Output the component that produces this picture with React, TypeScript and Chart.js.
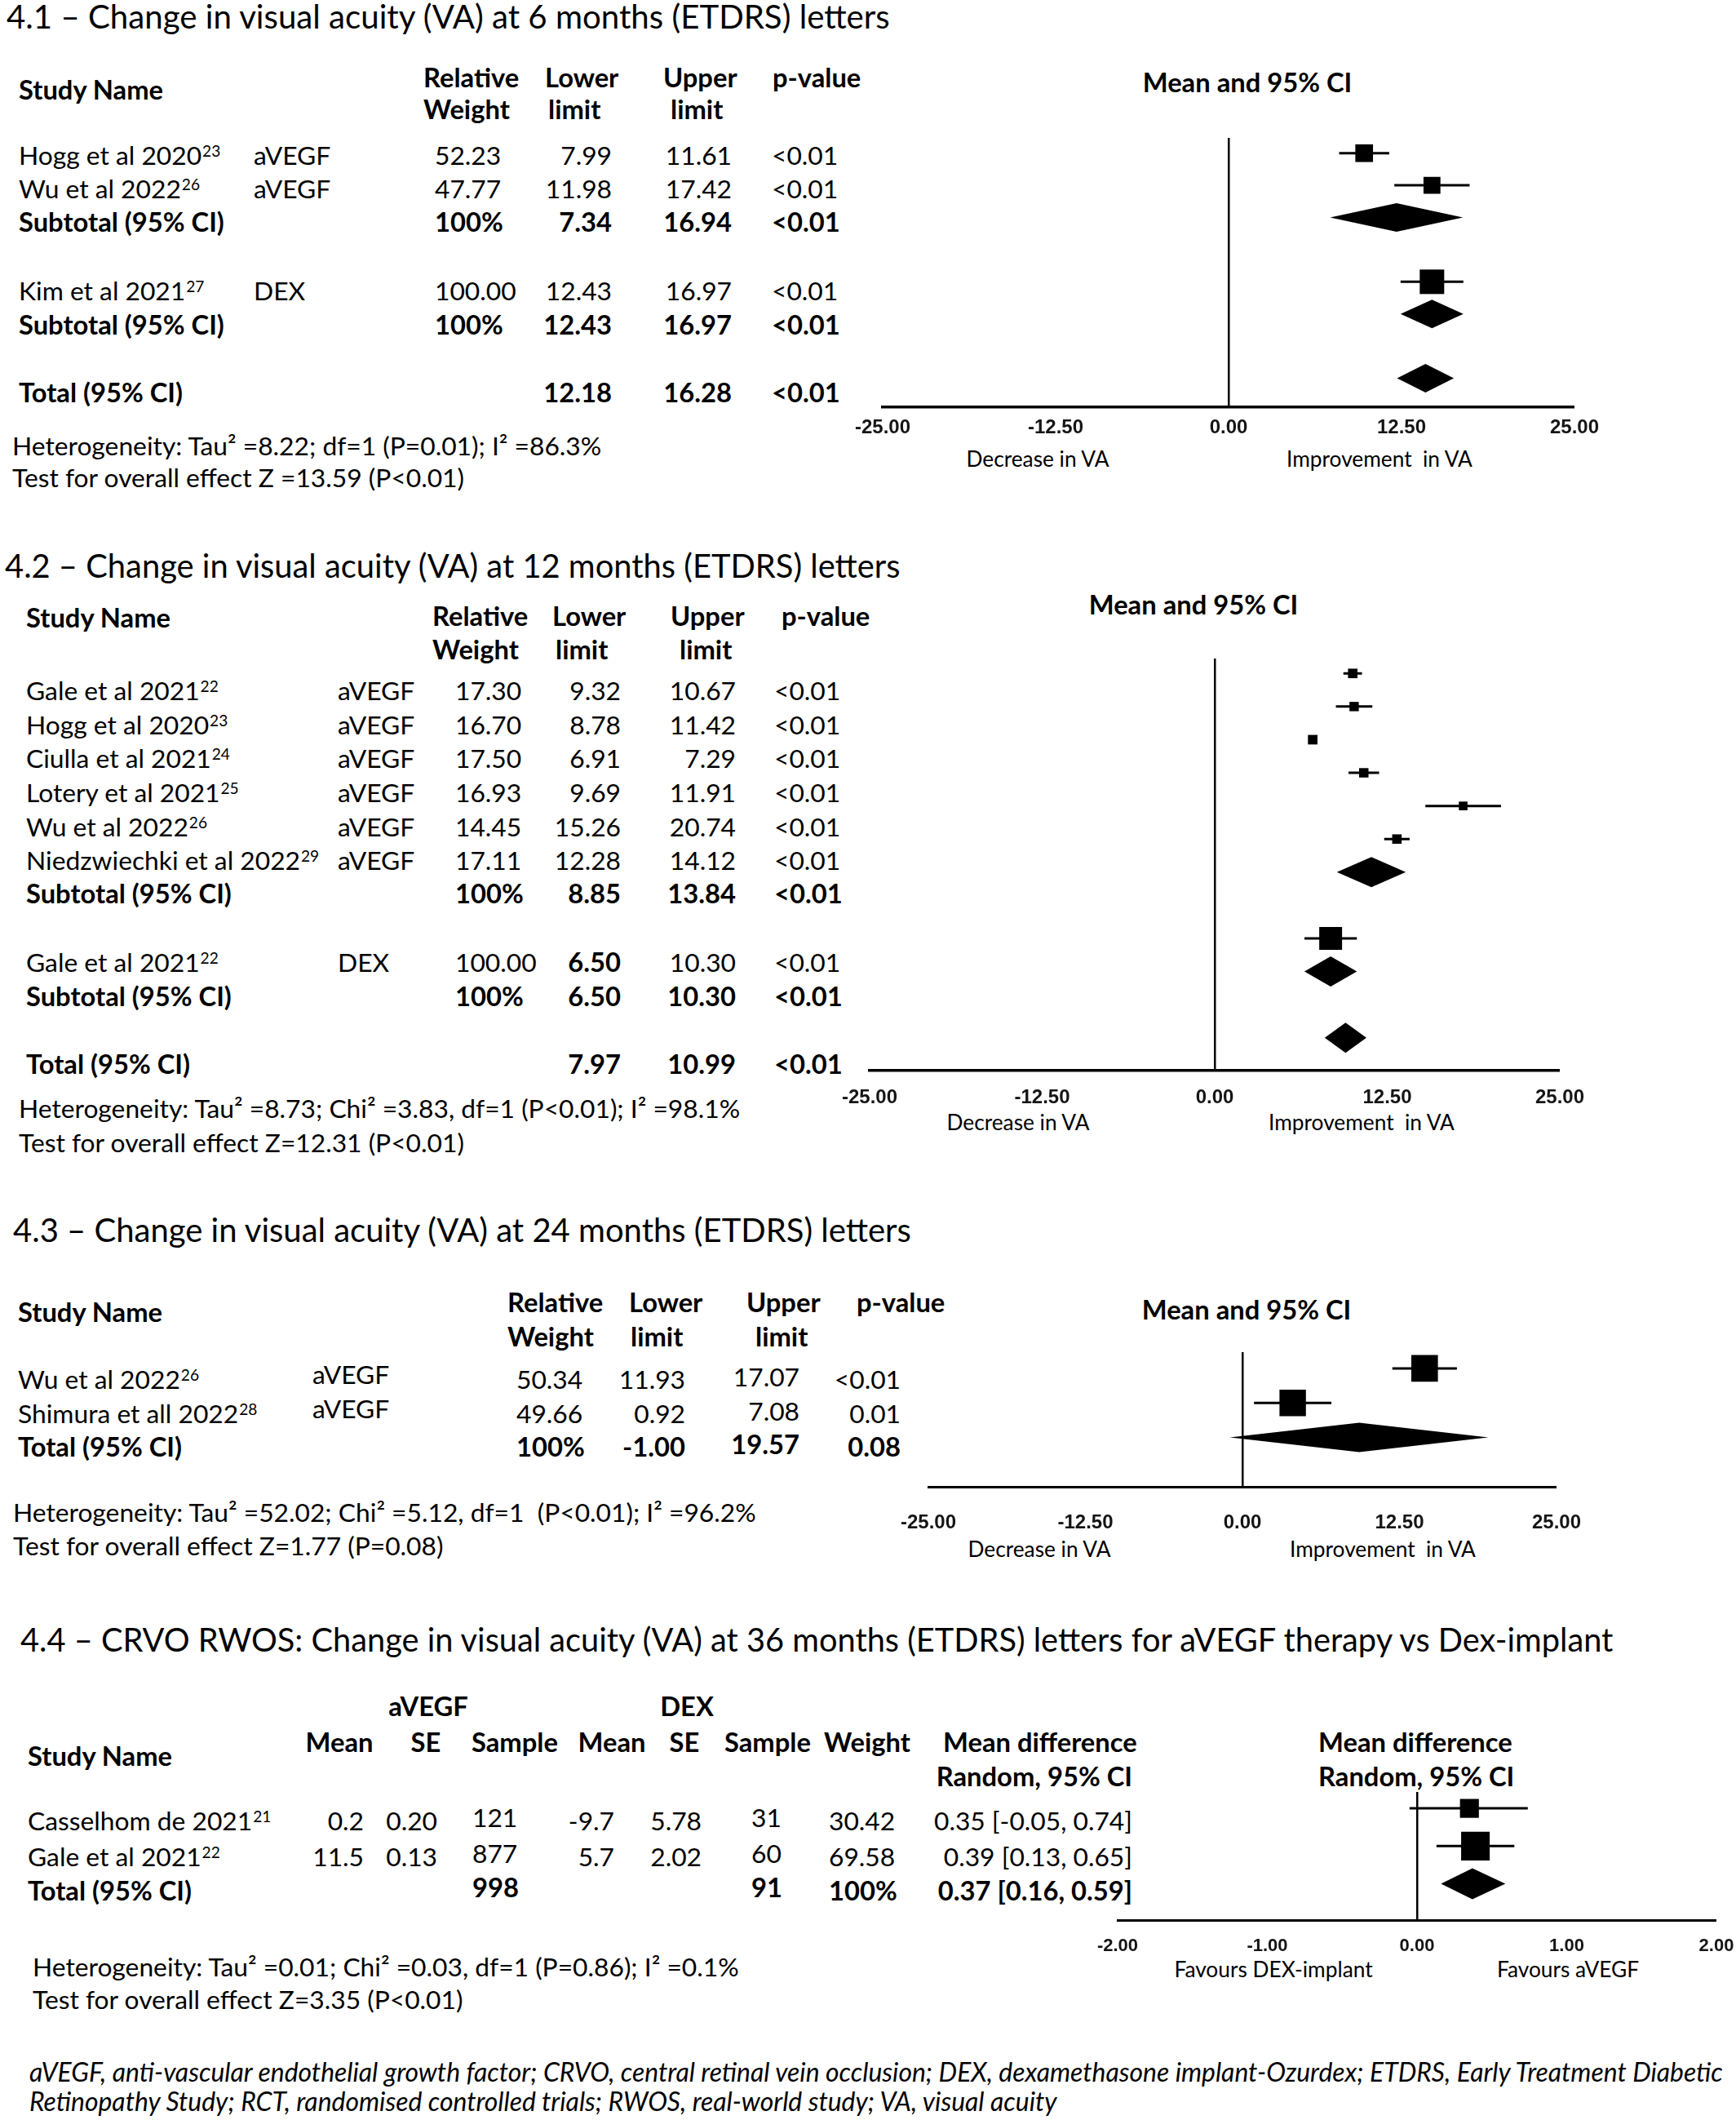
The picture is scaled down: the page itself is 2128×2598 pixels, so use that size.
import React, { useEffect, useMemo, useRef } from "react";
import { Chart, registerables } from "chart.js";
Chart.register(...registerables);

const FONT = "Lato, 'Open Sans', 'DejaVu Sans', sans-serif";
const TICK_FONT = "'Liberation Sans', Arial, sans-serif";

// ---------------- 4.1 : 6 months ----------------
const p1Study = ["Hogg et al 2020", "Wu et al 2022", "Subtotal (95% CI)", "Kim et al 2021", "Subtotal (95% CI)", "Total (95% CI)"];
const p1Ref = ["23", "26", "", "27", "", ""];
const p1Drug = ["aVEGF", "aVEGF", "", "DEX", "", ""];
const p1WeightLabel = ["52.23", "47.77", "100%", "100.00", "100%", ""];
const p1Weight = [52.23, 47.77, 100, 100, 100, 100];
const p1Lower = [7.99, 11.98, 7.34, 12.43, 12.43, 12.18];
const p1Upper = [11.61, 17.42, 16.94, 16.97, 16.97, 16.28];
const p1P = ["<0.01", "<0.01", "<0.01", "<0.01", "<0.01", "<0.01"];
const p1Mean = [9.8, 14.7, 12.14, 14.7, 14.7, 14.23];
const p1Pooled = [false, false, true, false, true, true];
const p1Row = [0, 1, 2, 4, 5, 7];
const p1Ticks = [-25, -12.5, 0, 12.5, 25];

// ---------------- 4.2 : 12 months ----------------
const p2Study = ["Gale et al 2021", "Hogg et al 2020", "Ciulla et al 2021", "Lotery et al 2021", "Wu et al 2022", "Niedzwiechki et al 2022", "Subtotal (95% CI)", "Gale et al 2021", "Subtotal (95% CI)", "Total (95% CI)"];
const p2Ref = ["22", "23", "24", "25", "26", "29", "", "22", "", ""];
const p2Drug = ["aVEGF", "aVEGF", "aVEGF", "aVEGF", "aVEGF", "aVEGF", "", "DEX", "", ""];
const p2WeightLabel = ["17.30", "16.70", "17.50", "16.93", "14.45", "17.11", "100%", "100.00", "100%", ""];
const p2Weight = [17.3, 16.7, 17.5, 16.93, 14.45, 17.11, 100, 100, 100, 100];
const p2Lower = [9.32, 8.78, 6.91, 9.69, 15.26, 12.28, 8.85, 6.5, 6.5, 7.97];
const p2Upper = [10.67, 11.42, 7.29, 11.91, 20.74, 14.12, 13.84, 10.3, 10.3, 10.99];
const p2LowerBold = [false, false, false, false, false, false, true, true, true, true];
const p2P = ["<0.01", "<0.01", "<0.01", "<0.01", "<0.01", "<0.01", "<0.01", "<0.01", "<0.01", "<0.01"];
const p2Mean = [10.0, 10.1, 7.1, 10.8, 18.0, 13.2, 11.35, 8.4, 8.4, 9.48];
const p2Pooled = [false, false, false, false, false, false, true, false, true, true];
const p2Row = [0, 1, 2, 3, 4, 5, 6, 8, 9, 11];
const p2Ticks = [-25, -12.5, 0, 12.5, 25];

// ---------------- 4.3 : 24 months ----------------
const p3Study = ["Wu et al 2022", "Shimura et all 2022", "Total (95% CI)"];
const p3Ref = ["26", "28", ""];
const p3Drug = ["aVEGF", "aVEGF", ""];
const p3WeightLabel = ["50.34", "49.66", "100%"];
const p3Weight = [50.34, 49.66, 100];
const p3Lower = [11.93, 0.92, -1.0];
const p3Upper = [17.07, 7.08, 19.57];
const p3P = ["<0.01", "0.01", "0.08"];
const p3Mean = [14.5, 4.0, 9.29];
const p3Pooled = [false, false, true];
const p3Row = [0, 1, 2];
const p3Ticks = [-25, -12.5, 0, 12.5, 25];

// ---------------- 4.4 : 36 months ----------------
const p4Study = ["Casselhom de 2021", "Gale et al 2021", "Total (95% CI)"];
const p4Ref = ["21", "22", ""];
const p4AMean = ["0.2", "11.5", ""];
const p4ASE = ["0.20", "0.13", ""];
const p4AN = ["121", "877", "998"];
const p4DMean = ["-9.7", "5.7", ""];
const p4DSE = ["5.78", "2.02", ""];
const p4DN = ["31", "60", "91"];
const p4WeightLabel = ["30.42", "69.58", "100%"];
const p4Weight = [30.42, 69.58, 100];
const p4MD = [0.35, 0.39, 0.37];
const p4Low = [-0.05, 0.13, 0.16];
const p4High = [0.74, 0.65, 0.59];
const p4Pooled = [false, false, true];
const p4Row = [0, 1, 2];
const p4Ticks = [-2, -1, 0, 1, 2];

const T1 = "4.1 – Change in visual acuity (VA) at 6 months (ETDRS) letters";
const T2 = "4.2 – Change in visual acuity (VA) at 12 months (ETDRS) letters";
const T3 = "4.3 – Change in visual acuity (VA) at 24 months (ETDRS) letters";
const T4 = "4.4 – CRVO RWOS: Change in visual acuity (VA) at 36 months (ETDRS) letters for aVEGF therapy vs Dex-implant";
const F1 = "aVEGF, anti-vascular endothelial growth factor; CRVO, central retinal vein occlusion; DEX, dexamethasone implant-Ozurdex; ETDRS, Early Treatment Diabetic";
const F2 = "Retinopathy Study; RCT, randomised controlled trials; RWOS, real-world study; VA, visual acuity";

function fitSize(text: string, target: number, weight = "normal", style = "normal", family = FONT) {
  const c = document.createElement("canvas").getContext("2d")!;
  c.font = `${style} ${weight} 100px ${family}`;
  const w = c.measureText(text).width || 1;
  return (100 * target) / w;
}

function Txt({ x, y, a = "l", b = false, i = false, s, children }: any) {
  const tx = a === "l" ? "0" : a === "c" ? "-50%" : "-100%";
  return (
    <div
      style={{
        position: "absolute",
        left: x,
        top: y,
        transform: `translate(${tx},-50%)`,
        whiteSpace: "pre",
        fontFamily: FONT,
        fontSize: s,
        fontWeight: b ? 700 : 400,
        fontStyle: i ? "italic" : "normal",
        lineHeight: 1.2,
        color: "#000",
      }}
    >
      {children}
    </div>
  );
}

const Sup = ({ t }: { t: string }) =>
  t ? <span style={{ fontSize: "0.6em", position: "relative", top: "-0.55em", marginLeft: 1 }}>{t}</span> : null;

type ForestProps = {
  x0: number; x1: number; zeroTop: number; axisY: number;
  xMin: number; xMax: number; ticks: number[];
  yMin: number; yMax: number;
  rows: number[]; means: number[]; lows: number[]; highs: number[]; weights: number[]; pooled: boolean[];
  sqK: number; diaHalf: number; axisW: number; tickCenter: number; tickSize: number;
};

function Forest(p: ForestProps) {
  const ref = useRef<HTMLCanvasElement>(null);
  const PADL = 70, PADR = 70, PADT = 30, XH = 110;
  const left = p.x0 - PADL;
  const top = p.zeroTop - PADT;
  const width = p.x1 - p.x0 + PADL + PADR;
  const height = PADT + (p.axisY - p.zeroTop) + XH;
  useEffect(() => {
    const pts: any[] = [];
    const radii: number[] = [];
    p.means.forEach((m, i) => {
      if (p.pooled[i]) return;
      pts.push({ x: m, y: p.rows[i] });
      radii.push((p.sqK * Math.sqrt(p.weights[i])) / Math.SQRT2);
    });
    const marks = {
      id: "forestMarks",
      beforeDatasetsDraw(chart: any) {
        const { ctx, scales } = chart;
        const xs = scales.x, ys = scales.y;
        ctx.save();
        ctx.strokeStyle = "#000";
        ctx.lineWidth = 3;
        p.lows.forEach((lo, i) => {
          if (p.pooled[i]) return;
          const yy = ys.getPixelForValue(p.rows[i]);
          ctx.beginPath();
          ctx.moveTo(xs.getPixelForValue(lo), yy);
          ctx.lineTo(xs.getPixelForValue(p.highs[i]), yy);
          ctx.stroke();
        });
        ctx.restore();
      },
      afterDatasetsDraw(chart: any) {
        const { ctx, scales } = chart;
        const xs = scales.x, ys = scales.y;
        ctx.save();
        ctx.fillStyle = "#000";
        p.lows.forEach((lo, i) => {
          if (!p.pooled[i]) return;
          const yy = ys.getPixelForValue(p.rows[i]);
          const xl = xs.getPixelForValue(lo);
          const xm = xs.getPixelForValue(p.means[i]);
          const xr = xs.getPixelForValue(p.highs[i]);
          ctx.beginPath();
          ctx.moveTo(xl, yy);
          ctx.lineTo(xm, yy - p.diaHalf);
          ctx.lineTo(xr, yy);
          ctx.lineTo(xm, yy + p.diaHalf);
          ctx.closePath();
          ctx.fill();
        });
        ctx.restore();
      },
    };
    const chart = new Chart(ref.current!, {
      type: "scatter",
      data: {
        datasets: [
          {
            data: pts,
            pointStyle: "rect",
            pointRadius: radii,
            pointHoverRadius: radii,
            pointBackgroundColor: "#000",
            pointBorderColor: "#000",
            pointBorderWidth: 0,
          } as any,
        ],
      },
      options: {
        animation: false,
        responsive: false,
        devicePixelRatio: 1,
        events: [],
        layout: { padding: { left: PADL, right: PADR, top: PADT, bottom: 0 } },
        plugins: { legend: { display: false }, tooltip: { enabled: false }, title: { display: false } },
        scales: {
          x: {
            type: "linear",
            position: "bottom",
            min: p.xMin,
            max: p.xMax,
            afterBuildTicks: (s: any) => {
              s.ticks = p.ticks.map((v) => ({ value: v }));
            },
            afterFit: (s: any) => {
              s.height = XH;
            },
            ticks: {
              autoSkip: false,
              maxRotation: 0,
              padding: p.tickCenter - p.axisY - 0.6 * p.tickSize,
              color: "#151515",
              font: { family: TICK_FONT, size: p.tickSize, weight: "bold" },
              callback: (v: any) => Number(v).toFixed(2),
            },
            grid: {
              drawTicks: false,
              color: (c: any) => (c.tick && c.tick.value === 0 ? "#000" : "rgba(0,0,0,0)"),
              lineWidth: (c: any) => (c.tick && c.tick.value === 0 ? 2.5 : 0),
            },
            border: { display: true, color: "#000", width: p.axisW },
          },
          y: { type: "linear", display: false, min: p.yMin, max: p.yMax, reverse: true },
        },
      } as any,
      plugins: [marks],
    });
    return () => chart.destroy();
  }, []);
  return (
    <canvas
      ref={ref}
      width={width}
      height={height}
      style={{ position: "absolute", left, top, width, height }}
    />
  );
}

export default function App() {
  const sz = useMemo(
    () => ({
      body: fitSize("Test for overall effect Z =13.59 (P<0.01)", 555),
      bold: fitSize("Study Name", 178, "bold"),
      t1: fitSize(T1, 1085),
      t2: fitSize(T2, 1100),
      t3: fitSize(T3, 1103),
      t4: fitSize(T4, 1958),
      cap: fitSize("Decrease in VA", 176),
      foot: fitSize(F1, 2080, "normal", "italic"),
    }),
    []
  );
  const B = sz.body, BB = sz.bold;

  const header = (xs: number[], y1: number, y2: number) => (
    <>
      <Txt x={xs[0]} y={y1} b s={BB}>Relative</Txt>
      <Txt x={xs[0]} y={y2} b s={BB}>Weight</Txt>
      <Txt x={xs[1]} y={y1} b s={BB}>Lower</Txt>
      <Txt x={xs[2]} y={y2} b s={BB}>limit</Txt>
      <Txt x={xs[3]} y={y1} b s={BB}>Upper</Txt>
      <Txt x={xs[4]} y={y2} b s={BB}>limit</Txt>
      <Txt x={xs[5]} y={y1} b s={BB}>p-value</Txt>
    </>
  );

  const rows1 = [190, 231, 272, 356, 398, 481];
  const rows2 = [846, 888, 929, 971, 1013, 1054, 1095, 1179, 1221, 1304];
  const rows3 = [1690, 1732, 1773];
  const rows4 = [2231, 2275, 2317];

  return (
    <div style={{ position: "absolute", left: 0, top: 0, width: 2128, height: 2598, background: "#fff", overflow: "hidden" }}>
      {/* ---------- 4.1 ---------- */}
      <Txt x={8} y={20} s={sz.t1}>{T1}</Txt>
      <Txt x={23} y={110} b s={BB}>Study Name</Txt>
      {header([519, 668, 672, 813, 822, 947], 95, 134)}
      {p1Study.map((n, i) => {
        const b = p1Pooled[i];
        return (
          <React.Fragment key={"r1" + i}>
            <Txt x={23} y={rows1[i]} b={b} s={b ? BB : B}>{n}<Sup t={p1Ref[i]} /></Txt>
            <Txt x={311} y={rows1[i]} s={B}>{p1Drug[i]}</Txt>
            <Txt x={533} y={rows1[i]} b={b} s={b ? BB : B}>{p1WeightLabel[i]}</Txt>
            <Txt x={750} y={rows1[i]} a="r" b={b} s={b ? BB : B}>{p1Lower[i].toFixed(2)}</Txt>
            <Txt x={897} y={rows1[i]} a="r" b={b} s={b ? BB : B}>{p1Upper[i].toFixed(2)}</Txt>
            <Txt x={946} y={rows1[i]} b={b} s={b ? BB : B}>{p1P[i]}</Txt>
          </React.Fragment>
        );
      })}
      <Txt x={15} y={546} s={B}>Heterogeneity: Tau² =8.22; df=1 (P=0.01); I² =86.3%</Txt>
      <Txt x={15} y={585} s={B}>Test for overall effect Z =13.59 (P&lt;0.01)</Txt>
      <Txt x={1529} y={101} a="c" b s={BB}>Mean and 95% CI</Txt>
      <Txt x={1272} y={563} a="c" s={sz.cap}>Decrease in VA</Txt>
      <Txt x={1691} y={563} a="c" s={sz.cap}>Improvement  in VA</Txt>
      <Forest x0={1082} x1={1930} zeroTop={169} axisY={499} xMin={-25} xMax={25} ticks={p1Ticks}
        yMin={-0.475} yMax={7.9} rows={p1Row} means={p1Mean} lows={p1Lower} highs={p1Upper}
        weights={p1Weight} pooled={p1Pooled} sqK={3.0} diaHalf={17.5} axisW={3.5} tickCenter={524} tickSize={24} />

      {/* ---------- 4.2 ---------- */}
      <Txt x={6} y={693} s={sz.t2}>{T2}</Txt>
      <Txt x={32} y={757} b s={BB}>Study Name</Txt>
      {header([530, 677, 681, 822, 833, 958], 755, 796)}
      {p2Study.map((n, i) => {
        const b = p2Pooled[i];
        const lb = p2LowerBold[i];
        return (
          <React.Fragment key={"r2" + i}>
            <Txt x={32} y={rows2[i]} b={b} s={b ? BB : B}>{n}<Sup t={p2Ref[i]} /></Txt>
            <Txt x={414} y={rows2[i]} s={B}>{p2Drug[i]}</Txt>
            <Txt x={558} y={rows2[i]} b={b} s={b ? BB : B}>{p2WeightLabel[i]}</Txt>
            <Txt x={761} y={rows2[i]} a="r" b={lb} s={lb ? BB : B}>{p2Lower[i].toFixed(2)}</Txt>
            <Txt x={902} y={rows2[i]} a="r" b={b} s={b ? BB : B}>{p2Upper[i].toFixed(2)}</Txt>
            <Txt x={949} y={rows2[i]} b={b} s={b ? BB : B}>{p2P[i]}</Txt>
          </React.Fragment>
        );
      })}
      <Txt x={23} y={1358} s={B}>Heterogeneity: Tau² =8.73; Chi² =3.83, df=1 (P&lt;0.01); I² =98.1%</Txt>
      <Txt x={23} y={1400} s={B}>Test for overall effect Z=12.31 (P&lt;0.01)</Txt>
      <Txt x={1463} y={741} a="c" b s={BB}>Mean and 95% CI</Txt>
      <Txt x={1248} y={1376} a="c" s={sz.cap}>Decrease in VA</Txt>
      <Txt x={1669} y={1376} a="c" s={sz.cap}>Improvement  in VA</Txt>
      <Forest x0={1066} x1={1912} zeroTop={807} axisY={1312} xMin={-25} xMax={25} ticks={p2Ticks}
        yMin={-0.45} yMax={11.99} rows={p2Row} means={p2Mean} lows={p2Lower} highs={p2Upper}
        weights={p2Weight} pooled={p2Pooled} sqK={2.8} diaHalf={18.5} axisW={3.5} tickCenter={1345} tickSize={24} />

      {/* ---------- 4.3 ---------- */}
      <Txt x={16} y={1507} s={sz.t3}>{T3}</Txt>
      <Txt x={22} y={1608} b s={BB}>Study Name</Txt>
      {header([622, 771, 773, 915, 926, 1050], 1596, 1638)}
      {p3Study.map((n, i) => {
        const b = p3Pooled[i];
        return (
          <React.Fragment key={"r3" + i}>
            <Txt x={22} y={rows3[i]} b={b} s={b ? BB : B}>{n}<Sup t={p3Ref[i]} /></Txt>
            <Txt x={383} y={rows3[i] - 6} s={B}>{p3Drug[i]}</Txt>
            <Txt x={633} y={rows3[i]} b={b} s={b ? BB : B}>{p3WeightLabel[i]}</Txt>
            <Txt x={840} y={rows3[i]} a="r" b={b} s={b ? BB : B}>{p3Lower[i].toFixed(2)}</Txt>
            <Txt x={980} y={rows3[i] - 3} a="r" b={b} s={b ? BB : B}>{p3Upper[i].toFixed(2)}</Txt>
            <Txt x={1104} y={rows3[i]} a="r" b={b} s={b ? BB : B}>{p3P[i]}</Txt>
          </React.Fragment>
        );
      })}
      <Txt x={16} y={1853} s={B}>Heterogeneity: Tau² =52.02; Chi² =5.12, df=1  (P&lt;0.01); I² =96.2%</Txt>
      <Txt x={16} y={1894} s={B}>Test for overall effect Z=1.77 (P=0.08)</Txt>
      <Txt x={1528} y={1605} a="c" b s={BB}>Mean and 95% CI</Txt>
      <Txt x={1274} y={1899} a="c" s={sz.cap}>Decrease in VA</Txt>
      <Txt x={1695} y={1899} a="c" s={sz.cap}>Improvement  in VA</Txt>
      <Forest x0={1138} x1={1908} zeroTop={1657} axisY={1822} xMin={-25} xMax={25} ticks={p3Ticks}
        yMin={-0.47} yMax={3.43} rows={p3Row} means={p3Mean} lows={p3Lower} highs={p3Upper}
        weights={p3Weight} pooled={p3Pooled} sqK={4.6} diaHalf={18} axisW={3} tickCenter={1866} tickSize={24} />

      {/* ---------- 4.4 ---------- */}
      <Txt x={25} y={2009} s={sz.t4}>{T4}</Txt>
      <Txt x={525} y={2091} a="c" b s={BB}>aVEGF</Txt>
      <Txt x={842} y={2091} a="c" b s={BB}>DEX</Txt>
      <Txt x={34} y={2152} b s={BB}>Study Name</Txt>
      <Txt x={416} y={2135} a="c" b s={BB}>Mean</Txt>
      <Txt x={522} y={2135} a="c" b s={BB}>SE</Txt>
      <Txt x={631} y={2135} a="c" b s={BB}>Sample</Txt>
      <Txt x={750} y={2135} a="c" b s={BB}>Mean</Txt>
      <Txt x={839} y={2135} a="c" b s={BB}>SE</Txt>
      <Txt x={941} y={2135} a="c" b s={BB}>Sample</Txt>
      <Txt x={1063} y={2135} a="c" b s={BB}>Weight</Txt>
      <Txt x={1156} y={2135} b s={BB}>Mean difference</Txt>
      <Txt x={1388} y={2177} a="r" b s={BB}>Random, 95% CI</Txt>
      {p4Study.map((n, i) => {
        const b = p4Pooled[i];
        const s = b ? BB : B;
        return (
          <React.Fragment key={"r4" + i}>
            <Txt x={34} y={rows4[i]} b={b} s={s}>{n}<Sup t={p4Ref[i]} /></Txt>
            <Txt x={446} y={rows4[i]} a="r" s={B}>{p4AMean[i]}</Txt>
            <Txt x={536} y={rows4[i]} a="r" s={B}>{p4ASE[i]}</Txt>
            <Txt x={579} y={rows4[i] - 4} b={b} s={s}>{p4AN[i]}</Txt>
            <Txt x={753} y={rows4[i]} a="r" s={B}>{p4DMean[i]}</Txt>
            <Txt x={860} y={rows4[i]} a="r" s={B}>{p4DSE[i]}</Txt>
            <Txt x={921} y={rows4[i] - 4} b={b} s={s}>{p4DN[i]}</Txt>
            <Txt x={1016} y={rows4[i]} b={b} s={s}>{p4WeightLabel[i]}</Txt>
            <Txt x={1388} y={rows4[i]} a="r" b={b} s={s}>
              {`${p4MD[i].toFixed(2)} [${p4Low[i].toFixed(2)}, ${p4High[i].toFixed(2)}]`}
            </Txt>
          </React.Fragment>
        );
      })}
      <Txt x={40} y={2410} s={B}>Heterogeneity: Tau² =0.01; Chi² =0.03, df=1 (P=0.86); I² =0.1%</Txt>
      <Txt x={40} y={2450} s={B}>Test for overall effect Z=3.35 (P&lt;0.01)</Txt>
      <Txt x={1616} y={2135} b s={BB}>Mean difference</Txt>
      <Txt x={1616} y={2177} b s={BB}>Random, 95% CI</Txt>
      <Txt x={1561} y={2414} a="c" s={sz.cap}>Favours DEX-implant</Txt>
      <Txt x={1922} y={2414} a="c" s={sz.cap}>Favours aVEGF</Txt>
      <Forest x0={1370} x1={2104} zeroTop={2196} axisY={2353} xMin={-2} xMax={2} ticks={p4Ticks}
        yMin={-0.435} yMax={2.96} rows={p4Row} means={p4MD} lows={p4Low} highs={p4High}
        weights={p4Weight} pooled={p4Pooled} sqK={4.2} diaHalf={19} axisW={3} tickCenter={2385} tickSize={22} />

      {/* ---------- footnote ---------- */}
      <Txt x={36} y={2539} i s={sz.foot}>{F1}</Txt>
      <Txt x={36} y={2575} i s={sz.foot}>{F2}</Txt>
    </div>
  );
}
